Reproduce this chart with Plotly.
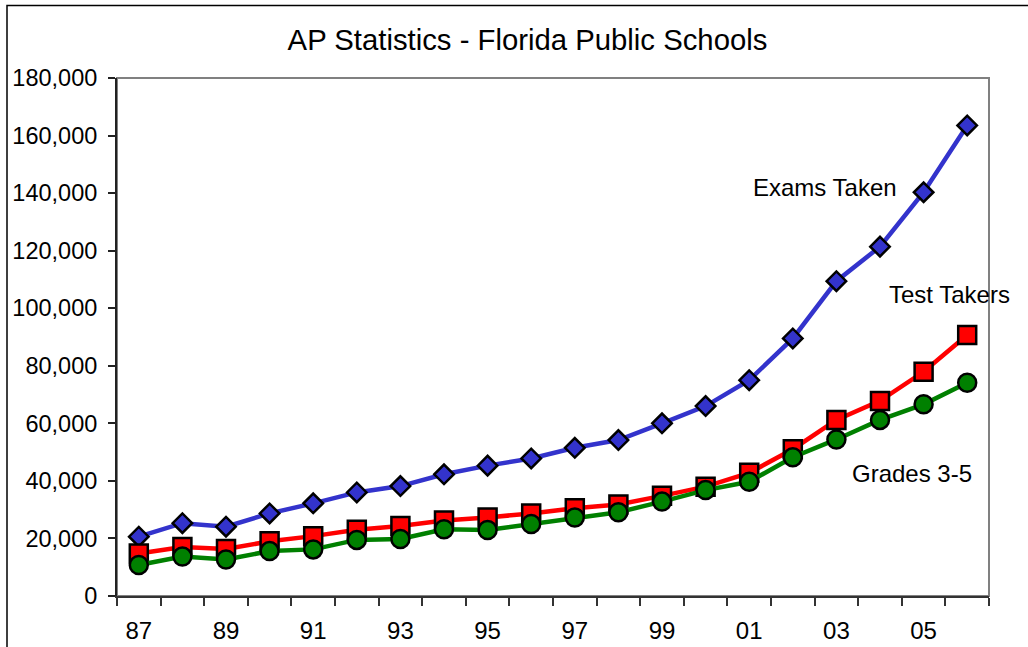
import plotly.graph_objects as go

years = ["87", "88", "89", "90", "91", "92", "93", "94", "95", "96",
         "97", "98", "99", "00", "01", "02", "03", "04", "05", "06"]
exams_taken = [20600, 25300, 24100, 28700, 32200, 36000, 38200, 42300, 45300, 47800,
               51500, 54200, 60000, 66000, 75000, 89500, 109400, 121400, 140300, 163500]
test_takers = [14800, 17000, 16300, 19000, 20800, 23000, 24300, 26200, 27300, 28700,
               30500, 31800, 34800, 38000, 42800, 51000, 61200, 67800, 77900, 90700]
grades_3_5 = [10800, 13700, 12700, 15600, 16200, 19500, 19800, 23200, 22900, 25000,
              27300, 29100, 32800, 36800, 39700, 48200, 54400, 61200, 66600, 74100]
y_ticks = [0, 20000, 40000, 60000, 80000, 100000, 120000, 140000, 160000, 180000]

W, H = 1028, 647
L, R, T, B = 117, 39, 78, 51
FONT = "Liberation Sans, Arial, sans-serif"

xi = list(range(len(years)))

fig = go.Figure()
fig.add_trace(go.Scatter(x=xi, y=exams_taken, mode="lines+markers", name="Exams Taken",
                         line=dict(color="#3333CC", width=4.5),
                         marker=dict(symbol="diamond", size=15, color="#3333CC",
                                     line=dict(color="black", width=2.5)),
                         cliponaxis=False))
fig.add_trace(go.Scatter(x=xi, y=test_takers, mode="lines+markers", name="Test Takers",
                         line=dict(color="#FF0000", width=4.5),
                         marker=dict(symbol="square", size=18, color="#FF0000",
                                     line=dict(color="black", width=2.5)),
                         cliponaxis=False))
fig.add_trace(go.Scatter(x=xi, y=grades_3_5, mode="lines+markers", name="Grades 3-5",
                         line=dict(color="#008000", width=4.5),
                         marker=dict(symbol="circle", size=18, color="#008000",
                                     line=dict(color="black", width=2.5)),
                         cliponaxis=False))

pw = W - L - R
ph = H - T - B
def px_x(p):
    return (p - L) / pw
def px_y(p):
    return (H - B - p) / ph

# outer chart border
fig.add_shape(type="rect", xref="paper", yref="paper",
              x0=px_x(7), x1=px_x(1040), y0=px_y(660), y1=px_y(5.5),
              line=dict(color="black", width=1.5), layer="below")
# gray plot-area frame (top / right)
fig.add_shape(type="rect", xref="paper", yref="paper", x0=0, x1=1, y0=0, y1=1,
              line=dict(color="#808080", width=2), layer="below")

annots = [("Exams Taken", 15.74, 142100), ("Test Takers", 18.6, 104900),
          ("Grades 3-5", 17.74, 42400)]
for txt, ax_, ay_ in annots:
    fig.add_annotation(x=ax_, y=ay_, xref="x", yref="y", text=txt, showarrow=False,
                       font=dict(family=FONT, size=24, color="black"))

fig.update_layout(
    width=W, height=H,
    margin=dict(l=L, r=R, t=T, b=B, autoexpand=False),
    paper_bgcolor="white", plot_bgcolor="white",
    showlegend=False,
    font=dict(family=FONT, size=24, color="black"),
    title=dict(text="AP Statistics - Florida Public Schools",
               x=527.5 / W, xanchor="center", xref="container",
               y=1 - 40 / H, yanchor="middle", yref="container",
               font=dict(family=FONT, size=29.3, color="black")),
)
fig.update_xaxes(range=[-0.5, len(years) - 0.5], automargin=False,
                 tickmode="array", tickvals=xi[::2], ticktext=years[::2],
                 ticks="", showgrid=False, zeroline=False,
                 showline=True, linecolor="#333333", linewidth=2,
                 minor=dict(tickmode="linear", tick0=-0.5, dtick=1, ticks="outside",
                            ticklen=8, tickcolor="#333333", tickwidth=1.5, showgrid=False),
                 ticklabelstandoff=12,
                 tickfont=dict(family=FONT, size=24, color="black"))
fig.update_yaxes(range=[0, 180000], automargin=False, tickmode="array", tickvals=y_ticks,
                 tickformat=",", ticks="outside", ticklen=7, tickcolor="#222222",
                 tickwidth=1.5, showgrid=False, zeroline=False,
                 showline=True, linecolor="#222222", linewidth=2,
                 ticklabelstandoff=6,
                 tickfont=dict(family=FONT, size=23.5, color="black"))

fig.write_html("out.html", config={"displayModeBar": False},
               post_script="document.body.style.margin='0px';document.body.style.overflow='hidden';")
